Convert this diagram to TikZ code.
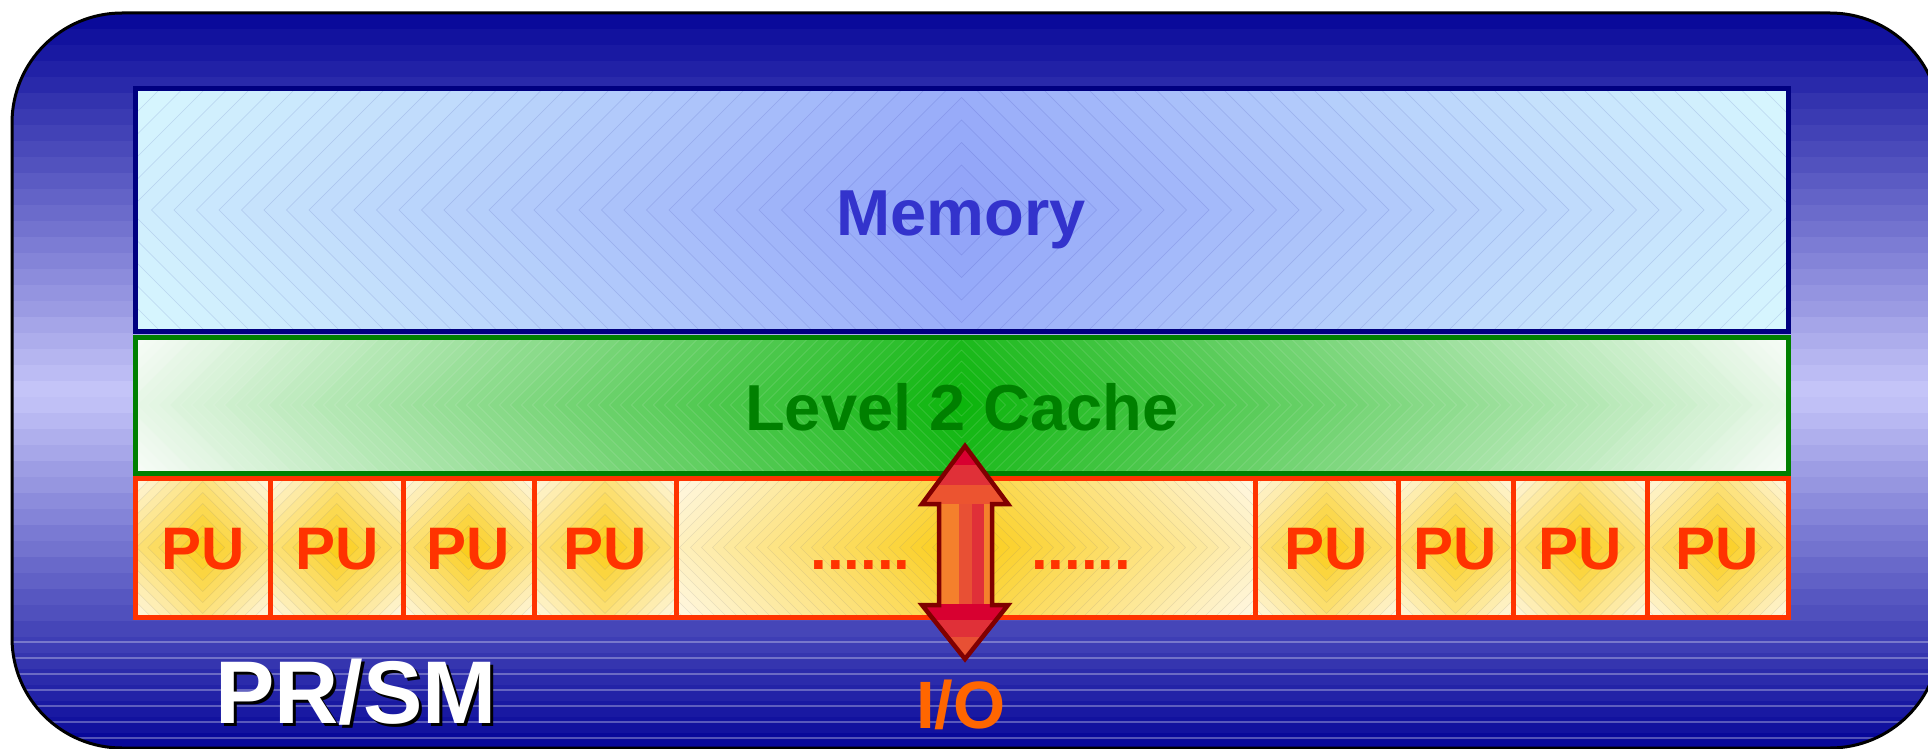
\documentclass[tikz,border=0pt]{standalone}
\usepackage{fontspec}
\setmainfont{Liberation Sans}
\definecolor{outdark}{RGB}{6,6,152}
\definecolor{outmid}{RGB}{200,200,250}
\definecolor{memin}{RGB}{144,162,248}
\definecolor{memout}{RGB}{216,248,254}
\definecolor{memborder}{RGB}{0,0,128}
\definecolor{memtext}{RGB}{51,51,204}
\definecolor{cachein}{RGB}{10,180,10}
\definecolor{cacheout}{RGB}{248,252,248}
\definecolor{cacheborder}{RGB}{0,128,0}
\definecolor{cachetext}{RGB}{0,128,0}
\definecolor{puin}{RGB}{250,204,20}
\definecolor{puout}{RGB}{255,248,228}
\definecolor{puborder}{RGB}{255,51,0}
\definecolor{iotext}{RGB}{255,102,0}
\definecolor{arrline}{RGB}{128,0,0}
\definecolor{arrA}{RGB}{244,128,44}
\definecolor{arrB}{RGB}{232,80,52}
\definecolor{arrC}{RGB}{224,48,56}
\definecolor{arrD}{RGB}{216,0,48}
\definecolor{arrE}{RGB}{236,84,48}

% diamond (path) gradient fill: x1 y1 x2 y2 inner outer step linestyle
\newcommand{\dmdfill}[8]{%
  \begin{scope}
    \clip (#1,#2) rectangle (#3,#4);
    \pgfmathsetmacro{\dmdcx}{(#1+#3)/2}
    \pgfmathsetmacro{\dmdcy}{(#2+#4)/2}
    \pgfmathsetmacro{\dmdmax}{(#3-#1)/2+(#4-#2)/2}
    \pgfmathtruncatemacro{\dmdn}{ceil(\dmdmax/#7)}
    \fill[#6] (#1,#2) rectangle (#3,#4);
    \foreach \dmdk in {\dmdn,...,1}{%
      \pgfmathsetmacro{\dmdr}{\dmdk*#7}
      \pgfmathtruncatemacro{\dmdp}{max(0,min(100,100*(1-(\dmdk-0.5)*#7/\dmdmax)))}
      \filldraw[fill=#5!\dmdp!#6, #8, line width=0.6pt]
        (\dmdcx-\dmdr,\dmdcy) -- (\dmdcx,\dmdcy-\dmdr) -- (\dmdcx+\dmdr,\dmdcy) -- (\dmdcx,\dmdcy+\dmdr) -- cycle;
    }
  \end{scope}}

\tikzset{
  lbl/.style={inner sep=0pt, anchor=base, font=\bfseries\fontsize{65pt}{70pt}\selectfont},
  pulbl/.style={lbl, text=puborder, font=\bfseries\fontsize{60pt}{66pt}\selectfont},
  membox/.style={draw=memborder, line width=5pt, inner sep=0pt, minimum width=1653pt, minimum height=242pt},
  cachebox/.style={draw=cacheborder, line width=5pt, inner sep=0pt, minimum width=1653pt, minimum height=136pt},
  pubox/.style={draw=puborder, line width=5pt, inner sep=0pt, minimum height=139pt},
  sysbox/.style={draw=black, line width=3pt, rounded corners=110pt, inner sep=0pt, minimum width=1928pt, minimum height=735pt},
}

\begin{document}
\begin{tikzpicture}[x=1pt,y=-1pt]
\useasboundingbox (0,0) rectangle (1928,749);

% ---- outer PR/SM container: banded vertical gradient ----
\begin{scope}
  \clip[rounded corners=110pt] (12,13) rectangle (1940,748);
  \foreach \k in {0,...,45}{%
    \pgfmathsetmacro{\oby}{13+16*\k}
    \pgfmathsetmacro{\obc}{\oby+8}
    \pgfmathsetmacro{\obt}{(\obc<393) ? (\obc-13)/380 : (748-\obc)/355}
    \pgfmathtruncatemacro{\obp}{max(0,min(100,\obt*100))}
    \fill[outmid!\obp!outdark] (0,\oby) rectangle (1945,\oby+16.5);
  }
  \foreach \ly in {642,658,674,690,706,722,738}{%
    \draw[white, opacity=0.3, line width=1.2pt] (0,\ly) -- (1945,\ly);
  }
\end{scope}
\node[sysbox] (sys) at (976,380.5) {};

% ---- Memory ----
\dmdfill{135}{89}{1788}{331}{memin}{memout}{22.5}{draw=memborder, draw opacity=0.12}
\node[membox] (mem) at (961.5,210) {};
\node[lbl, text=memtext] (memlbl) at (961,235) {Memory};

% ---- Level 2 Cache ----
\dmdfill{135}{337}{1788}{473}{cachein}{cacheout}{11}{draw=white, draw opacity=0.18}
\node[cachebox] (cache) at (961.5,405) {};
\node[lbl, text=cachetext] (cachelbl) at (962,430) {Level 2 Cache};

% ---- PU row fills ----
\foreach \xa/\xb in {135/270.5, 270.5/403, 403/534, 534/676, 676/1255, 1255/1398, 1398/1513, 1513/1647, 1647/1788}{%
  \dmdfill{\xa}{478}{\xb}{617}{puin}{puout}{11}{draw=gray, draw opacity=0.18}
}
% ---- PU boxes ----
\foreach \xa/\xb/\nm in {135/270.5/pu1, 270.5/403/pu2, 403/534/pu3, 534/676/pu4, 1255/1398/pu5, 1398/1513/pu6, 1513/1647/pu7, 1647/1788/pu8}{%
  \pgfmathsetmacro{\pcx}{(\xa+\xb)/2}
  \pgfmathsetmacro{\pw}{\xb-\xa}
  \node[pubox, minimum width=\pw pt] (\nm) at (\pcx,547.5) {};
  \node[pulbl] (\nm lbl) at (\pcx,569) {PU};
}
\node[pubox, minimum width=579pt] (mid) at (965.5,547.5) {};
\node[pulbl] (dotsL) at (860.5,569) {......};
\node[pulbl] (dotsR) at (1081,569) {......};

% ---- I/O double arrow ----
\coordinate (a1) at (965,446);
\coordinate (a2) at (1008,504);
\coordinate (a3) at (992,504);
\coordinate (a4) at (992,605);
\coordinate (a5) at (1008,605);
\coordinate (a6) at (965,659);
\coordinate (a7) at (922,605);
\coordinate (a8) at (939,605);
\coordinate (a9) at (939,504);
\coordinate (a10) at (922,504);
\begin{scope}
  \clip (a1) -- (a2) -- (a3) -- (a4) -- (a5) -- (a6) -- (a7) -- (a8) -- (a9) -- (a10) -- cycle;
  % top head bands
  \fill[arrD] (900,440) rectangle (1030,465);
  \fill[arrC] (900,465) rectangle (1030,485);
  \fill[arrE] (900,485) rectangle (1030,505);
  % shaft stripes
  \fill[arrA] (930,504) rectangle (959,605);
  \fill[arrB] (959,504) rectangle (972,605);
  \fill[arrC] (972,504) rectangle (984,605);
  \fill[arrA] (984,504) rectangle (1000,605);
  % bottom head bands
  \fill[arrD] (900,604) rectangle (1030,620);
  \fill[arrC] (900,620) rectangle (1030,637);
  \fill[arrB] (900,637) rectangle (1030,650);
  \fill[arrE] (900,650) rectangle (1030,665);
\end{scope}
\draw[arrline, line width=4.5pt, line join=miter]
  (a1) -- (a2) -- (a3) -- (a4) -- (a5) -- (a6) -- (a7) -- (a8) -- (a9) -- (a10) -- cycle;

% ---- labels ----
\node[lbl, text=iotext, font=\bfseries\fontsize{67pt}{72pt}\selectfont] (io) at (961,728) {I/O};
\node[lbl, anchor=base west, text=black, font=\bfseries\fontsize{89pt}{95pt}\selectfont] (prsmshadow) at (218,726) {PR/SM};
\node[lbl, anchor=base west, text=white, font=\bfseries\fontsize{89pt}{95pt}\selectfont] (prsm) at (215,723) {PR/SM};
\end{tikzpicture}
\end{document}
